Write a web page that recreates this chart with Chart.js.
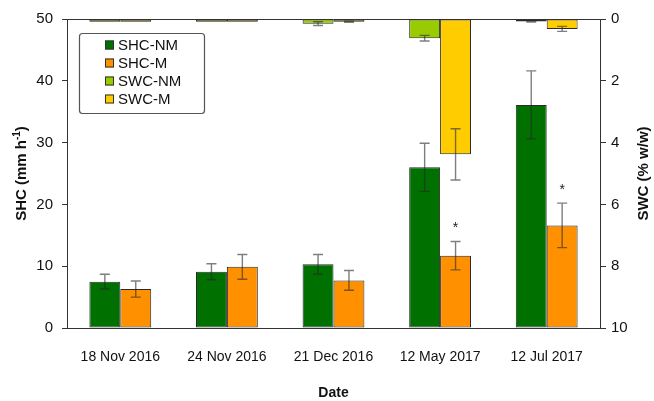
<!DOCTYPE html>
<html lang="en">

<head>
  <meta charset="UTF-8">
  <title>SHC and SWC</title>
  <script src="https://cdn.jsdelivr.net/npm/chart.js@4/dist/chart.umd.min.js"></script>
  <style>
    html, body { margin: 0; padding: 0; background: #fff; }
    .plot-container { width: 654px; height: 401px; position: relative; }
  </style>
</head>

<body>
  <div class="plot-container">
    <canvas id="plot"></canvas>
  </div>

  <script>
    const dates = ['18 Nov 2016', '24 Nov 2016', '21 Dec 2016', '12 May 2017', '12 Jul 2017'];

    // SHC (mm h-1), left axis
    const shcNM = [7.5, 9.1, 10.3, 26.0, 36.1];
    const shcNMErr = [1.2, 1.3, 1.6, 3.9, 5.5];
    const shcM = [6.3, 9.9, 7.7, 11.7, 16.6];
    const shcMErr = [1.3, 2.0, 1.6, 2.3, 3.6];

    // SWC (% w/w), right axis (reversed)
    const swcNM = [0.09, 0.09, 0.15, 0.62, 0.08];
    const swcNMErr = [0, 0, 0.06, 0.09, 0.02];
    const swcM = [0.09, 0.09, 0.09, 4.38, 0.32];
    const swcMErr = [0, 0, 0.02, 0.83, 0.08];

    // significance marks on SHC-M
    const shcMSig = ['', '', '', '*', '*'];

    const font = 'Liberation Sans, Arial, sans-serif';

    const errorBars = {
      id: 'errorBars',
      afterDatasetsDraw(chart) {
        const ctx = chart.ctx;
        ctx.save();
        chart.data.datasets.forEach((ds, di) => {
          const meta = chart.getDatasetMeta(di);
          const scale = chart.scales[ds.yAxisID];
          ds.data.forEach((v, i) => {
            const e = ds.err[i];
            const x = meta.data[i].x;
            if (e > 0) {
              const y1 = scale.getPixelForValue(v - e);
              const y2 = scale.getPixelForValue(v + e);
              ctx.strokeStyle = 'rgba(40,40,40,0.6)';
              ctx.lineWidth = 1.4;
              ctx.beginPath();
              ctx.moveTo(x, y1); ctx.lineTo(x, y2);
              ctx.moveTo(x - 5, y1); ctx.lineTo(x + 5, y1);
              ctx.moveTo(x - 5, y2); ctx.lineTo(x + 5, y2);
              ctx.stroke();
            }
            if (ds.sig && ds.sig[i]) {
              ctx.fillStyle = '#222';
              ctx.font = '14px ' + font;
              ctx.textAlign = 'center';
              ctx.textBaseline = 'middle';
              ctx.fillText(ds.sig[i], x, scale.getPixelForValue(v + e) - 13);
            }
          });
        });
        ctx.restore();
      }
    };

    const frameAndLabels = {
      id: 'frameAndLabels',
      afterDraw(chart) {
        const ctx = chart.ctx;
        const a = chart.chartArea;
        ctx.save();
        // top frame line
        ctx.strokeStyle = '#333';
        ctx.lineWidth = 1;
        ctx.beginPath();
        ctx.moveTo(a.left, a.top + 0.5);
        ctx.lineTo(a.right, a.top + 0.5);
        ctx.stroke();

        // axis titles
        ctx.fillStyle = '#111';
        ctx.textBaseline = 'middle';
        const cy = (a.top + a.bottom) / 2;

        // left title with a real superscript
        ctx.save();
        ctx.translate(22, cy);
        ctx.rotate(-Math.PI / 2);
        const big = 'bold 15px ' + font, small = 'bold 10px ' + font;
        ctx.font = big;
        const w1 = ctx.measureText('SHC (mm h').width;
        const w3 = ctx.measureText(')').width;
        ctx.font = small;
        const w2 = ctx.measureText('-1').width;
        let x0 = -(w1 + w2 + w3) / 2;
        ctx.textAlign = 'left';
        ctx.font = big;
        ctx.fillText('SHC (mm h', x0, 0);
        ctx.font = small;
        ctx.fillText('-1', x0 + w1, -5);
        ctx.font = big;
        ctx.fillText(')', x0 + w1 + w2, 0);
        ctx.restore();

        ctx.textAlign = 'center';
        ctx.save();
        ctx.translate(644, cy);
        ctx.rotate(-Math.PI / 2);
        ctx.font = 'bold 15px ' + font;
        ctx.fillText('SWC (% w/w)', 0, 0);
        ctx.restore();
        ctx.font = 'bold 14px ' + font;
        ctx.fillText('Date', (a.left + a.right) / 2, 393);

        // legend box
        const lx = a.left + 12, ly = a.top + 14, lw = 125, lh = 80;
        ctx.strokeStyle = '#555';
        ctx.lineWidth = 1.2;
        ctx.beginPath();
        ctx.roundRect(lx + 0.5, ly + 0.5, lw, lh, 3);
        ctx.stroke();
        ctx.font = '15px ' + font;
        ctx.textAlign = 'left';
        chart.data.datasets.forEach((ds, i) => {
          const y = ly + 12 + i * 18;
          ctx.fillStyle = ds.backgroundColor;
          ctx.fillRect(lx + 26, y - 4.5, 9, 9);
          ctx.strokeStyle = '#333';
          ctx.lineWidth = 1;
          ctx.strokeRect(lx + 26.5, y - 4, 8, 8);
          ctx.fillStyle = '#111';
          ctx.fillText(ds.label, lx + 39, y + 1);
        });
        ctx.restore();
      }
    };

    const barStyle = {
      borderColor: '#2a2a2a',
      borderWidth: 1,
      borderSkipped: false,
      barPercentage: 1.0,
      categoryPercentage: 0.58,
    };

    const data = {
      labels: dates,
      datasets: [
        { label: 'SHC-NM', data: shcNM, err: shcNMErr, yAxisID: 'y', stack: 'nm', backgroundColor: '#007000', ...barStyle },
        { label: 'SHC-M', data: shcM, err: shcMErr, sig: shcMSig, yAxisID: 'y', stack: 'm', backgroundColor: '#ff9100', ...barStyle },
        { label: 'SWC-NM', data: swcNM, err: swcNMErr, yAxisID: 'y2', stack: 'nm', backgroundColor: '#99cc00', ...barStyle },
        { label: 'SWC-M', data: swcM, err: swcMErr, yAxisID: 'y2', stack: 'm', backgroundColor: '#ffcc00', ...barStyle },
      ]
    };

    const config = {
      type: 'bar',
      data,
      options: {
        responsive: false,
        animation: false,
        layout: { padding: { top: 19, left: 0, right: 0, bottom: 0 } },
        plugins: {
          legend: { display: false },
          tooltip: { enabled: false }
        },
        scales: {
          x: {
            stacked: true,
            grid: { display: false },
            border: { color: '#333', width: 1 },
            ticks: { color: '#111', font: { family: font, size: 14 }, padding: 13, maxRotation: 0, autoSkip: false },
            afterFit: (s) => { s.height = 73; }
          },
          y: {
            position: 'left',
            stacked: false,
            min: 0, max: 50,
            grid: { drawOnChartArea: false, tickLength: 5, color: '#333' },
            border: { color: '#333', width: 1 },
            ticks: { stepSize: 10, color: '#111', font: { family: font, size: 15 }, padding: 9 },
            afterFit: (s) => { s.width = 67; }
          },
          y2: {
            position: 'right',
            stacked: false,
            reverse: true,
            min: 0, max: 10,
            grid: { drawOnChartArea: false, tickLength: 6, color: '#333' },
            border: { color: '#333', width: 1 },
            ticks: { stepSize: 2, color: '#111', font: { family: font, size: 15 }, padding: 5 },
            afterFit: (s) => { s.width = 54; }
          }
        }
      },
      plugins: [errorBars, frameAndLabels]
    };

    const canvas = document.getElementById('plot');
    canvas.width = 654;
    canvas.height = 401;
    const plot = new Chart(canvas, config);
  </script>
</body>

</html>
